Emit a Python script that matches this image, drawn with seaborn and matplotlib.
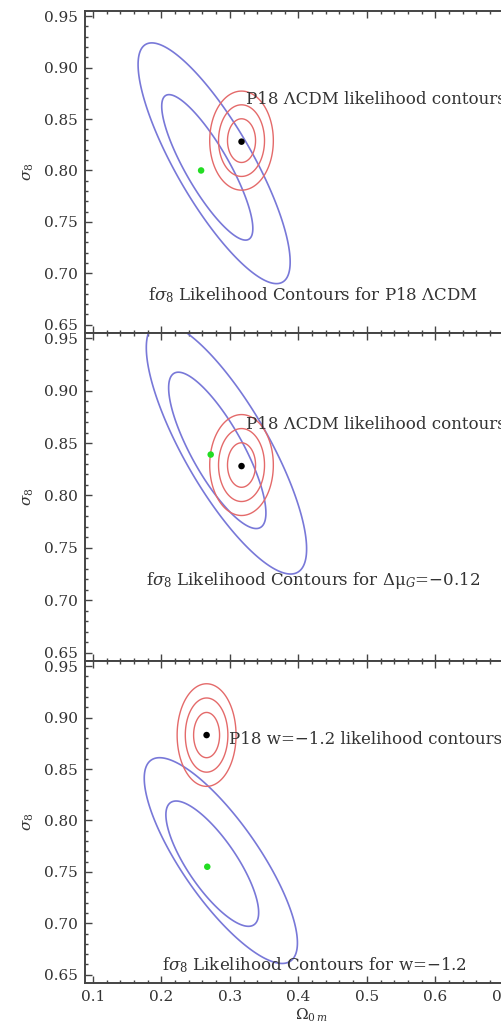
import numpy as np
import matplotlib
matplotlib.use("Agg")
import matplotlib.pyplot as plt
import seaborn as sns
import pandas as pd
from matplotlib.ticker import MultipleLocator, FormatStrFormatter

# ---------------- data ----------------
# fσ8 likelihood contours (blue): per contour ellipse (centre, half-extents, correlation)
# inner = 1σ contour, outer = 2σ contour, one entry per panel
blue_in_cx = [0.267, 0.2816, 0.2743]
blue_in_cy = [0.803, 0.843, 0.758]
blue_in_ax = [0.0665, 0.071, 0.0677]
blue_in_by = [0.0707, 0.0746, 0.0609]
blue_in_rho = [-0.84, -0.80, -0.78]

blue_out_cx = [0.277, 0.295, 0.2868]
blue_out_cy = [0.807, 0.845, 0.761]
blue_out_ax = [0.111, 0.117, 0.1118]
blue_out_by = [0.117, 0.120, 0.100]
blue_out_rho = [-0.82, -0.80, -0.80]

# Planck 18 likelihood (red), Gaussian with 1σ/2σ/3σ (2 d.o.f.) levels
red_cx = [0.317, 0.317, 0.266]
red_cy = [0.829, 0.829, 0.883]
red_sx = [0.0135, 0.0135, 0.0125]
red_sy = [0.0140, 0.0140, 0.0145]
red_rho = [0.0, 0.0, 0.0]
red_levels = [2.30, 6.18, 11.83]

# best-fit points
green_x = [0.258, 0.272, 0.267]
green_y = [0.800, 0.839, 0.755]
black_x = [0.317, 0.317, 0.266]
black_y = [0.828, 0.828, 0.883]

# labels
p18_labels = ["P18 ΛCDM likelihood contours",
              "P18 ΛCDM likelihood contours",
              "P18 w=−1.2 likelihood contours"]
p18_label_x = [0.3234, 0.3234, 0.299]
p18_label_y = [0.869, 0.868, 0.879]
fs8_labels = [r"f$\sigma_8$ Likelihood Contours for P18 ΛCDM",
              r"f$\sigma_8$ Likelihood Contours for Δμ$_G$=−0.12",
              r"f$\sigma_8$ Likelihood Contours for w=−1.2"]
fs8_label_x = [0.421, 0.422, 0.4226]
fs8_label_y = [0.679, 0.719, 0.659]

yticks = [0.65, 0.70, 0.75, 0.80, 0.85, 0.90, 0.95]
xticks = [0.1, 0.2, 0.3, 0.4, 0.5, 0.6, 0.7]

# ---------------- style ----------------
sns.set_style("ticks")
plt.rcParams["font.family"] = ["DejaVu Serif"]
plt.rcParams["mathtext.fontset"] = "dejavuserif"
TXT = "#333333"
BLUE = "#7878d8"
RED = "#e46a6a"

W, H = 502, 1027
fig = plt.figure(figsize=(W / 100, H / 100), dpi=100)

xlim = (0.0885, 0.75)
ylim = (0.642, 0.955)
left_px = 85
right_px = left_px + (xlim[1] - xlim[0]) * 685
panels_px = [(11, 333), (333, 661), (661, 983)]

gx = np.linspace(0.05, 0.8, 700)
gy = np.linspace(0.55, 1.05, 700)
GX, GY = np.meshgrid(gx, gy)


def chi2(cx, cy, sx, sy, rho):
    dx = (GX - cx) / sx
    dy = (GY - cy) / sy
    return (dx * dx - 2 * rho * dx * dy + dy * dy) / (1 - rho * rho)


for i, (top, bot) in enumerate(panels_px):
    ax = fig.add_axes([left_px / W, 1 - bot / H, (right_px - left_px) / W, (bot - top) / H])
    ax.set_facecolor("white")

    ax.contour(GX, GY, chi2(blue_in_cx[i], blue_in_cy[i], blue_in_ax[i], blue_in_by[i], blue_in_rho[i]),
               levels=[1.0], colors=BLUE, linewidths=1.2)
    ax.contour(GX, GY, chi2(blue_out_cx[i], blue_out_cy[i], blue_out_ax[i], blue_out_by[i], blue_out_rho[i]),
               levels=[1.0], colors=BLUE, linewidths=1.2)
    ax.contour(GX, GY, chi2(red_cx[i], red_cy[i], red_sx[i], red_sy[i], red_rho[i]),
               levels=red_levels, colors=RED, linewidths=1.0)

    pts = pd.DataFrame({"x": [green_x[i], black_x[i]],
                        "y": [green_y[i], black_y[i]],
                        "kind": ["fit", "p18"]})
    sns.scatterplot(data=pts, x="x", y="y", hue="kind",
                    palette={"fit": "#22dd22", "p18": "black"},
                    s=22, edgecolor="none", legend=False, ax=ax, zorder=5)

    ax.text(p18_label_x[i], p18_label_y[i], p18_labels[i], ha="left", va="center",
            fontsize=12, color=TXT)
    ax.text(fs8_label_x[i], fs8_label_y[i], fs8_labels[i], ha="center", va="center",
            fontsize=12, color=TXT)

    ax.set_xlim(*xlim)
    ax.set_ylim(*ylim)
    ax.set_yticks(yticks)
    ax.set_xticks(xticks)
    ax.yaxis.set_major_formatter(FormatStrFormatter("%.2f"))
    ax.xaxis.set_major_formatter(FormatStrFormatter("%.1f"))
    ax.xaxis.set_minor_locator(MultipleLocator(0.02))
    ax.yaxis.set_minor_locator(MultipleLocator(0.01))
    ax.tick_params(which="both", direction="in", top=True, right=True, colors="#444444",
                   labelcolor=TXT, labelsize=11, width=1.0)
    ax.tick_params(which="major", length=5)
    ax.tick_params(which="minor", length=2.5)
    ax.tick_params(axis="y", pad=5)
    if i < 2:
        ax.tick_params(axis="x", labelbottom=False)
    else:
        ax.tick_params(axis="x", pad=5)
        ax.set_xlabel(r"$\Omega_{0\,m}$", fontsize=11, color=TXT, labelpad=2)
    ax.set_ylabel(r"$\sigma_8$", fontsize=11, color=TXT, labelpad=6)
    for s in ax.spines.values():
        s.set_color("#444444")
        s.set_linewidth(1.4)

fig.savefig("out.png", dpi=100)
